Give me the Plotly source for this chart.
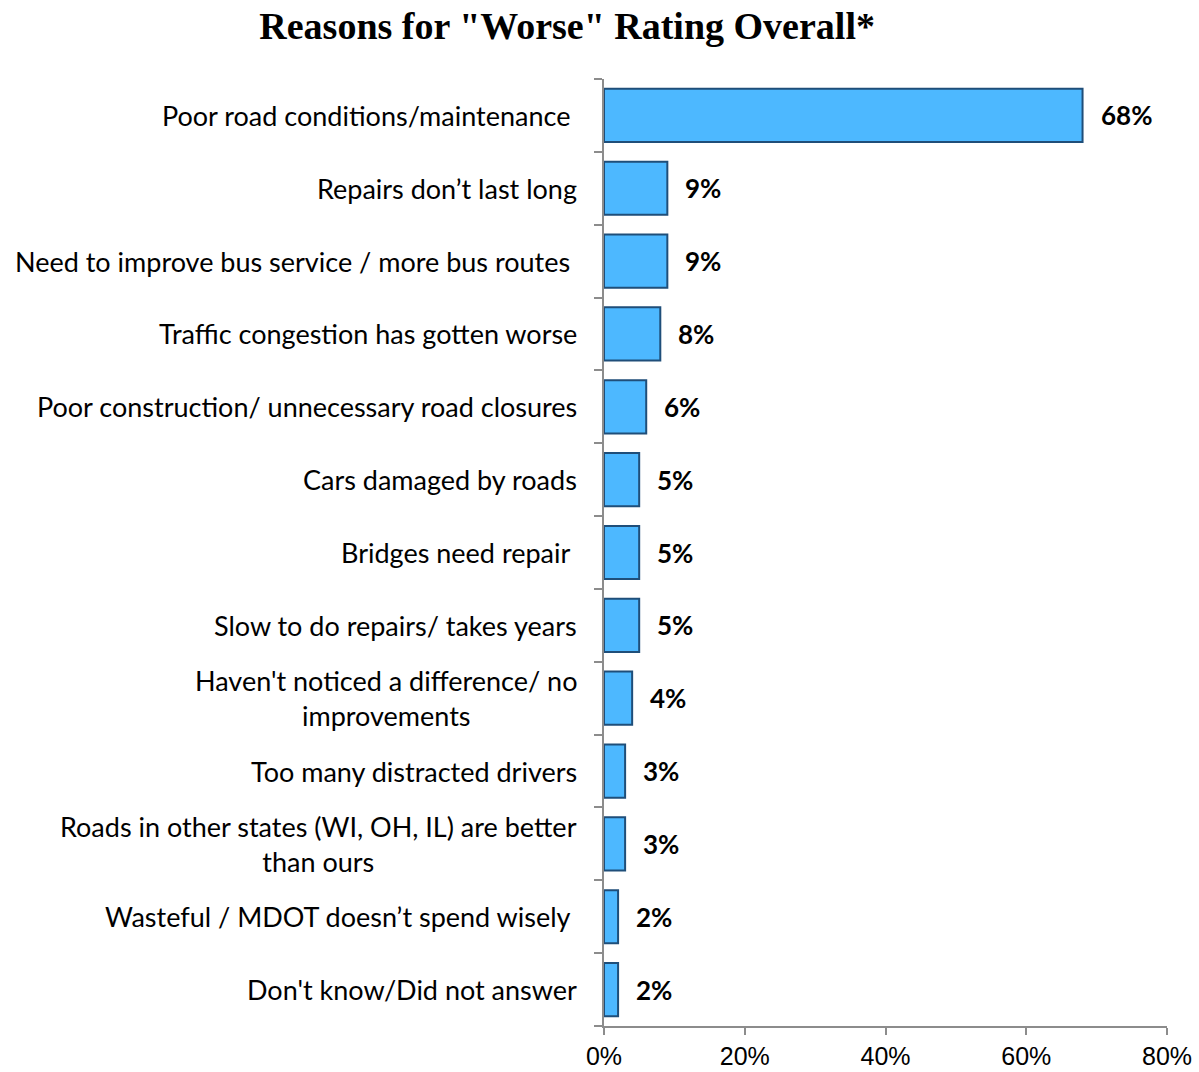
import plotly.graph_objects as go

# Survey responses, listed top to bottom
reasons = [
    "Poor road conditions/maintenance\u00a0",
    "Repairs don\u2019t last long",
    "Need to improve bus service / more bus routes\u00a0",
    "Traffic congestion has gotten worse",
    "Poor construction/ unnecessary road closures",
    "Cars damaged by roads",
    "Bridges need repair\u00a0",
    "Slow to do repairs/ takes years",
    "Haven't noticed a difference/ no<br>improvements",
    "Too many distracted drivers",
    "Roads in other states (WI, OH, IL) are better<br>than ours",
    "Wasteful / MDOT doesn\u2019t spend wisely\u00a0",
    "Don't know/Did not answer",
]
shares = [68, 9, 9, 8, 6, 5, 5, 5, 4, 3, 3, 2, 2]

x_ticks = [0, 20, 40, 60, 80]
x_tick_text = ["0%", "20%", "40%", "60%", "80%"]

cats = list(range(len(reasons)))

fig = go.Figure(
    go.Bar(
        x=shares,
        y=cats,
        orientation="h",
        marker=dict(color="#4DB8FF", line=dict(color="#1F4E79", width=2)),
        hoverinfo="skip",
    )
)

# category labels (right aligned block, lines centered)
for c, name in zip(cats, reasons):
    fig.add_annotation(
        x=0, y=c, xref="x", yref="y", text=name, showarrow=False,
        xanchor="right", yanchor="middle", align="center", xshift=-25,
        font=dict(family="Lato", size=27, color="#000000"),
    )

# value labels
for c, v in zip(cats, shares):
    fig.add_annotation(
        x=v, y=c, xref="x", yref="y", text=f"<b>{v}%</b>", showarrow=False,
        xanchor="left", yanchor="middle", xshift=16,
        font=dict(family="Lato", size=26, color="#000000"),
    )

fig.update_layout(
    width=1199, height=1072,
    margin=dict(l=604, r=32, t=79, b=46),
    paper_bgcolor="white", plot_bgcolor="white",
    bargap=0.27,
    showlegend=False,
    title=dict(
        text="<b>Reasons for \"Worse\" Rating Overall*</b>",
        x=0.473, xanchor="center", y=0.976, yanchor="middle",
        font=dict(family="Liberation Serif", size=38, color="#000000"),
    ),
)
fig.update_xaxes(
    range=[0, 80], tickvals=x_ticks, ticktext=x_tick_text,
    showgrid=False, zeroline=False, showline=True, linecolor="#8C8C8C", linewidth=2,
    ticks="outside", ticklen=7, tickwidth=2, tickcolor="#8C8C8C",
    ticklabelstandoff=0, automargin=False,
    tickfont=dict(family="Liberation Sans", size=25, color="#000000"),
    fixedrange=True,
)
fig.update_yaxes(
    type="category", range=[len(reasons) - 0.5, -0.5],
    tickvals=cats, showticklabels=False, tickson="boundaries", automargin=False,
    showgrid=False, zeroline=False, showline=True, linecolor="#8C8C8C", linewidth=2,
    ticks="outside", ticklen=8, tickwidth=2, tickcolor="#8C8C8C",
    fixedrange=True,
)

fig.write_html("out.html")
